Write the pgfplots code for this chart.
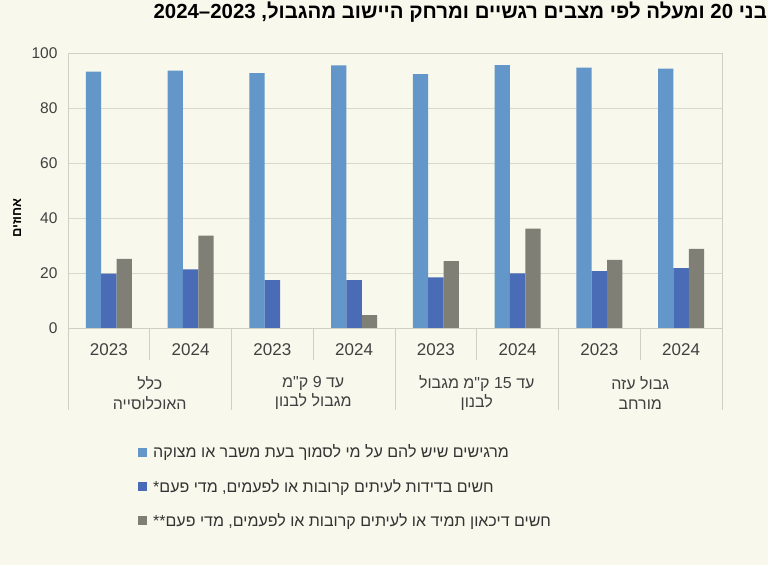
\documentclass[border=0pt]{standalone}
\usepackage{pgfplots}
\pgfplotsset{compat=1.18}
\usepackage{fontspec}
\setmainfont{Liberation Sans}
\newfontfamily\heb[Script=Hebrew]{Liberation Sans}
\TeXXeTstate=1
\definecolor{bgc}{HTML}{F8F8EC}
\definecolor{c1}{HTML}{6497C9}
\definecolor{c2}{HTML}{4A6BB5}
\definecolor{c3}{HTML}{7F7F75}
\definecolor{gridc}{HTML}{D9D9CB}
\definecolor{framec}{HTML}{D0D0C2}
\definecolor{tickc}{HTML}{404040}
\definecolor{txtc}{HTML}{333333}
\begin{document}
\begin{tikzpicture}[x=1pt,y=1pt]
\fill[bgc] (0pt,0pt) rectangle (768pt,565pt);
\begin{axis}[
  at={(68pt,237pt)}, anchor=south west, scale only axis,
  width=654pt, height=275pt,
  xmin=-0.5, xmax=7.5, ymin=0, ymax=100,
  ybar=0pt, bar width=15.3pt,
  xtick=\empty, ytick={0,20,...,100},
  ymajorgrids, grid style={color=gridc, line width=0.8pt},
  axis line style={color=framec, line width=0.8pt},
  major tick length=0pt,
  yticklabel style={font=\fontsize{15.5}{16}\selectfont, text=tickc, xshift=-7pt},
  /pgf/number format/assume math mode=true,
]
\addplot[fill=c1, draw=none] coordinates {(0,93.2) (1,93.6) (2,92.7) (3,95.5) (4,92.3) (5,95.6) (6,94.7) (7,94.3)};
\addplot[fill=c2, draw=none] coordinates {(0,19.8) (1,21.3) (2,17.4) (3,17.4) (4,18.4) (5,19.9) (6,20.7) (7,21.8)};
\addplot[fill=c3, draw=none] coordinates {(0,25.1) (1,33.6) (3,4.7) (4,24.3) (5,36.1) (6,24.8) (7,28.8)};
\end{axis}
% category separators
\foreach \k in {0,2,4,6,8} {\draw[framec, line width=0.8pt] ({(68+\k*81.75)*1pt},237pt) -- ({(68+\k*81.75)*1pt},155pt);}
\foreach \k in {1,3,5,7} {\draw[framec, line width=0.8pt] ({(68+\k*81.75)*1pt},237pt) -- ({(68+\k*81.75)*1pt},205pt);}
% year labels
\foreach \k/\yr in {0/2023,1/2024,2/2023,3/2024,4/2023,5/2024,6/2023,7/2024}
  {\node[text=tickc, font=\fontsize{17}{17}\selectfont] at ({(68+(\k+0.5)*81.75)*1pt},215pt) {\yr};}
% group labels
\begin{scope}[every node/.style={text=tickc, align=center, font=\heb\fontsize{16}{19.5}\selectfont}]
\node at ({(68+1*81.75)*1pt},172pt) {\beginR כלל\endR\\\beginR האוכלוסייה\endR};
\node at ({(68+3*81.75)*1pt},172pt) {\beginR עד 9 ק"מ\endR\\\beginR מגבול לבנון\endR};
\node at ({(68+5*81.75)*1pt},172pt) {\beginR עד 15 ק"מ מגבול\endR\\\beginR לבנון\endR};
\node at ({(68+7*81.75)*1pt},172pt) {\beginR גבול עזה\endR\\\beginR מורחב\endR};
\end{scope}
% y label
\node[rotate=90, font=\heb\bfseries\fontsize{13}{13}\selectfont, text=black] at (17pt,347pt) {\beginR אחוזים\endR};
% title
\node[anchor=east, font=\heb\bfseries\fontsize{20.4}{20.4}\selectfont, text=black, inner sep=0pt] at (767pt,553pt)
  {\beginR בני 20 ומעלה לפי מצבים רגשיים ומרחק היישוב מהגבול, \beginL 2024\kern0pt–\kern0pt2023\endL\endR};
% legend
\begin{scope}[every node/.style={anchor=west, text=txtc, font=\heb\fontsize{16}{16}\selectfont, inner sep=0pt}]
\fill[c1] (138pt,108pt) rectangle (147pt,117pt);
\node at (153pt,112pt) {\beginR מרגישים שיש להם על מי לסמוך בעת משבר או מצוקה\endR};
\fill[c2] (138pt,74pt) rectangle (147pt,83pt);
\node at (153pt,78pt) {\beginR חשים בדידות לעיתים קרובות או לפעמים, מדי פעם\kern0pt*\endR};
\fill[c3] (138pt,40pt) rectangle (147pt,49pt);
\node at (153pt,44pt) {\beginR חשים דיכאון תמיד או לעיתים קרובות או לפעמים, מדי פעם\kern0pt**\endR};
\end{scope}
\end{tikzpicture}
\end{document}
